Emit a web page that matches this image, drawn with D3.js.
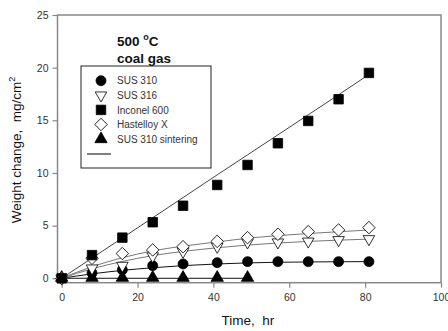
<!DOCTYPE html>
<html>
<head>
<meta charset="utf-8">
<script src="https://cdn.jsdelivr.net/npm/d3@7"></script>
<style>
  body { margin: 0; background: #fff; }
  text { font-family: Arial, "Liberation Sans", sans-serif; white-space: pre; }
</style>
</head>
<body>
<div id="chart"></div>
<script>
// measured times (hr)
const times = [0, 8, 16, 24, 32, 41, 49, 57, 65, 73, 81];
const timesSinter = [0, 8, 16, 24, 32, 41, 49];

// weight change, mg/cm2
const sus310 = [0, 0.5, 0.8, 1.2, 1.36, 1.48, 1.58, 1.58, 1.58, 1.58, 1.58];
const sus316 = [0, 0.95, 1.2, 2.1, 2.53, 3.0, 3.42, 3.42, 3.5, 3.64, 3.73];
const inconel600 = [0, 2.2, 3.86, 5.32, 6.89, 8.86, 10.76, 12.82, 14.94, 17.0, 19.5];
const hastelloyX = [0, 1.9, 2.35, 2.69, 3.0, 3.5, 3.86, 4.18, 4.43, 4.59, 4.81];
const sus310Sinter = [0.05, 0.05, 0.05, 0.05, 0.05, 0.05, 0.05];

// fitted curves
const fitSus310 = [0, 0.42, 0.75, 1.0, 1.2, 1.36, 1.46, 1.52, 1.55, 1.57, 1.58];
const fitSus316 = [0, 0.9, 1.6, 2.15, 2.55, 2.9, 3.15, 3.35, 3.5, 3.62, 3.72];
const fitInconel = [0, 1.92, 3.83, 5.75, 7.66, 9.82, 11.72, 13.62, 15.52, 17.43, 19.35];
const fitHastelloy = [0, 1.1, 1.95, 2.6, 3.05, 3.45, 3.8, 4.05, 4.25, 4.42, 4.58];
const fitSinter = [0, 0, 0, 0, 0, 0, 0];

const xTicks = [0, 20, 40, 60, 80, 100];
const yTicks = [0, 5, 10, 15, 20, 25];
const legendNames = ['SUS 310', 'SUS 316', 'Inconel 600', 'Hastelloy X', 'SUS 310 sintering'];

const W = 448, H = 331;
const svg = d3.select('#chart').append('svg').attr('width', W).attr('height', H);

const x = d3.scaleLinear().domain([-1.1, 100]).range([57.5, 441]);
const y = d3.scaleLinear().domain([-0.42, 25]).range([282.7, 15]);

const axisColor = '#888';
const labelColor = '#333';

// frame
svg.append('rect')
  .attr('x', x.range()[0]).attr('y', y.range()[1])
  .attr('width', x.range()[1] - x.range()[0])
  .attr('height', y.range()[0] - y.range()[1])
  .attr('fill', 'none').attr('stroke', axisColor).attr('stroke-width', 1.5);

const xAxis = svg.append('g')
  .attr('transform', `translate(0,${y.range()[0]})`)
  .call(d3.axisBottom(x).tickValues(xTicks).tickSize(5).tickPadding(6));
const yAxis = svg.append('g')
  .attr('transform', `translate(${x.range()[0]},0)`)
  .call(d3.axisLeft(y).tickValues(yTicks).tickSize(5).tickPadding(4));

[xAxis, yAxis].forEach((a) => {
  a.select('.domain').remove();
  a.selectAll('line').attr('stroke', axisColor).attr('stroke-width', 1.2);
  a.selectAll('text').attr('fill', labelColor).attr('font-size', 10.5)
    .attr('font-family', 'Arial, "Liberation Sans", sans-serif');
});

// fit lines
const line = d3.line().x((d) => x(d[0])).y((d) => y(d[1])).curve(d3.curveMonotoneX);
const fits = [
  { t: times, v: fitSus310, c: '#111' },
  { t: times, v: fitSus316, c: '#777' },
  { t: times, v: fitInconel, c: '#444' },
  { t: times, v: fitHastelloy, c: '#777' },
  { t: timesSinter, v: fitSinter, c: '#111' },
];
fits.forEach((f) => {
  svg.append('path')
    .datum(f.t.map((t, i) => [t, f.v[i]]))
    .attr('d', line)
    .attr('fill', 'none')
    .attr('stroke', f.c)
    .attr('stroke-width', 1);
});

// markers
const symbols = [
  { type: d3.symbolCircle, size: 78, fill: '#000' },
  { type: d3.symbolTriangle, size: 58, fill: '#fff', rotate: 180 },
  { type: d3.symbolSquare, size: 90, fill: '#000' },
  { type: d3.symbolSquare, size: 78, fill: '#fff', rotate: 45 },
  { type: d3.symbolTriangle, size: 66, fill: '#000' },
];

function marker(g, s, cx, cy) {
  g.append('path')
    .attr('d', d3.symbol().type(s.type).size(s.size)())
    .attr('transform', `translate(${cx},${cy})` + (s.rotate ? ` rotate(${s.rotate})` : ''))
    .attr('fill', s.fill)
    .attr('stroke', '#000')
    .attr('stroke-width', 0.8);
}

const series = [
  { t: times, v: sus310, s: symbols[0] },
  { t: timesSinter, v: sus310Sinter, s: symbols[4] },
  { t: times, v: sus316, s: symbols[1] },
  { t: times, v: hastelloyX, s: symbols[3] },
  { t: times, v: inconel600, s: symbols[2] },
];
series.forEach((se) => {
  const g = svg.append('g');
  se.t.forEach((t, i) => marker(g, se.s, x(t), y(se.v[i])));
});

// title
const title = svg.append('text')
  .attr('x', 117).attr('y', 46)
  .attr('font-size', 13.5).attr('font-weight', 'bold').attr('fill', '#111');
title.append('tspan').text('500 ');
title.append('tspan').attr('font-size', 9).attr('dy', -6).text('o');
title.append('tspan').attr('dy', 6).text('C');
svg.append('text')
  .attr('x', 117).attr('y', 63)
  .attr('font-size', 13.5).attr('font-weight', 'bold').attr('fill', '#111')
  .text('coal gas');

// legend
const leg = svg.append('g');
leg.append('rect')
  .attr('x', 81).attr('y', 66).attr('width', 130).attr('height', 102)
  .attr('fill', '#fff').attr('stroke', '#222').attr('stroke-width', 1);
legendNames.forEach((name, i) => {
  const ly = 80.7 + i * 14.6;
  marker(leg, symbols[i], 101, ly);
  leg.append('text')
    .attr('x', 117).attr('y', ly + 3.6)
    .attr('font-size', 10).attr('fill', labelColor)
    .text(name);
});
leg.append('line')
  .attr('x1', 87).attr('x2', 111).attr('y1', 154).attr('y2', 154)
  .attr('stroke', '#000').attr('stroke-width', 1);

// axis titles
svg.append('text')
  .attr('x', 248).attr('y', 325)
  .attr('text-anchor', 'middle')
  .attr('font-size', 13.5).attr('fill', '#111')
  .text('Time,  hr');

const yl = svg.append('text')
  .attr('transform', 'translate(21,150) rotate(-90)')
  .attr('text-anchor', 'middle')
  .attr('font-size', 13.5).attr('fill', '#111');
yl.append('tspan').text('Weight change,  mg/cm');
yl.append('tspan').attr('font-size', 9).attr('dy', -6).text('2');
</script>
</body>
</html>
